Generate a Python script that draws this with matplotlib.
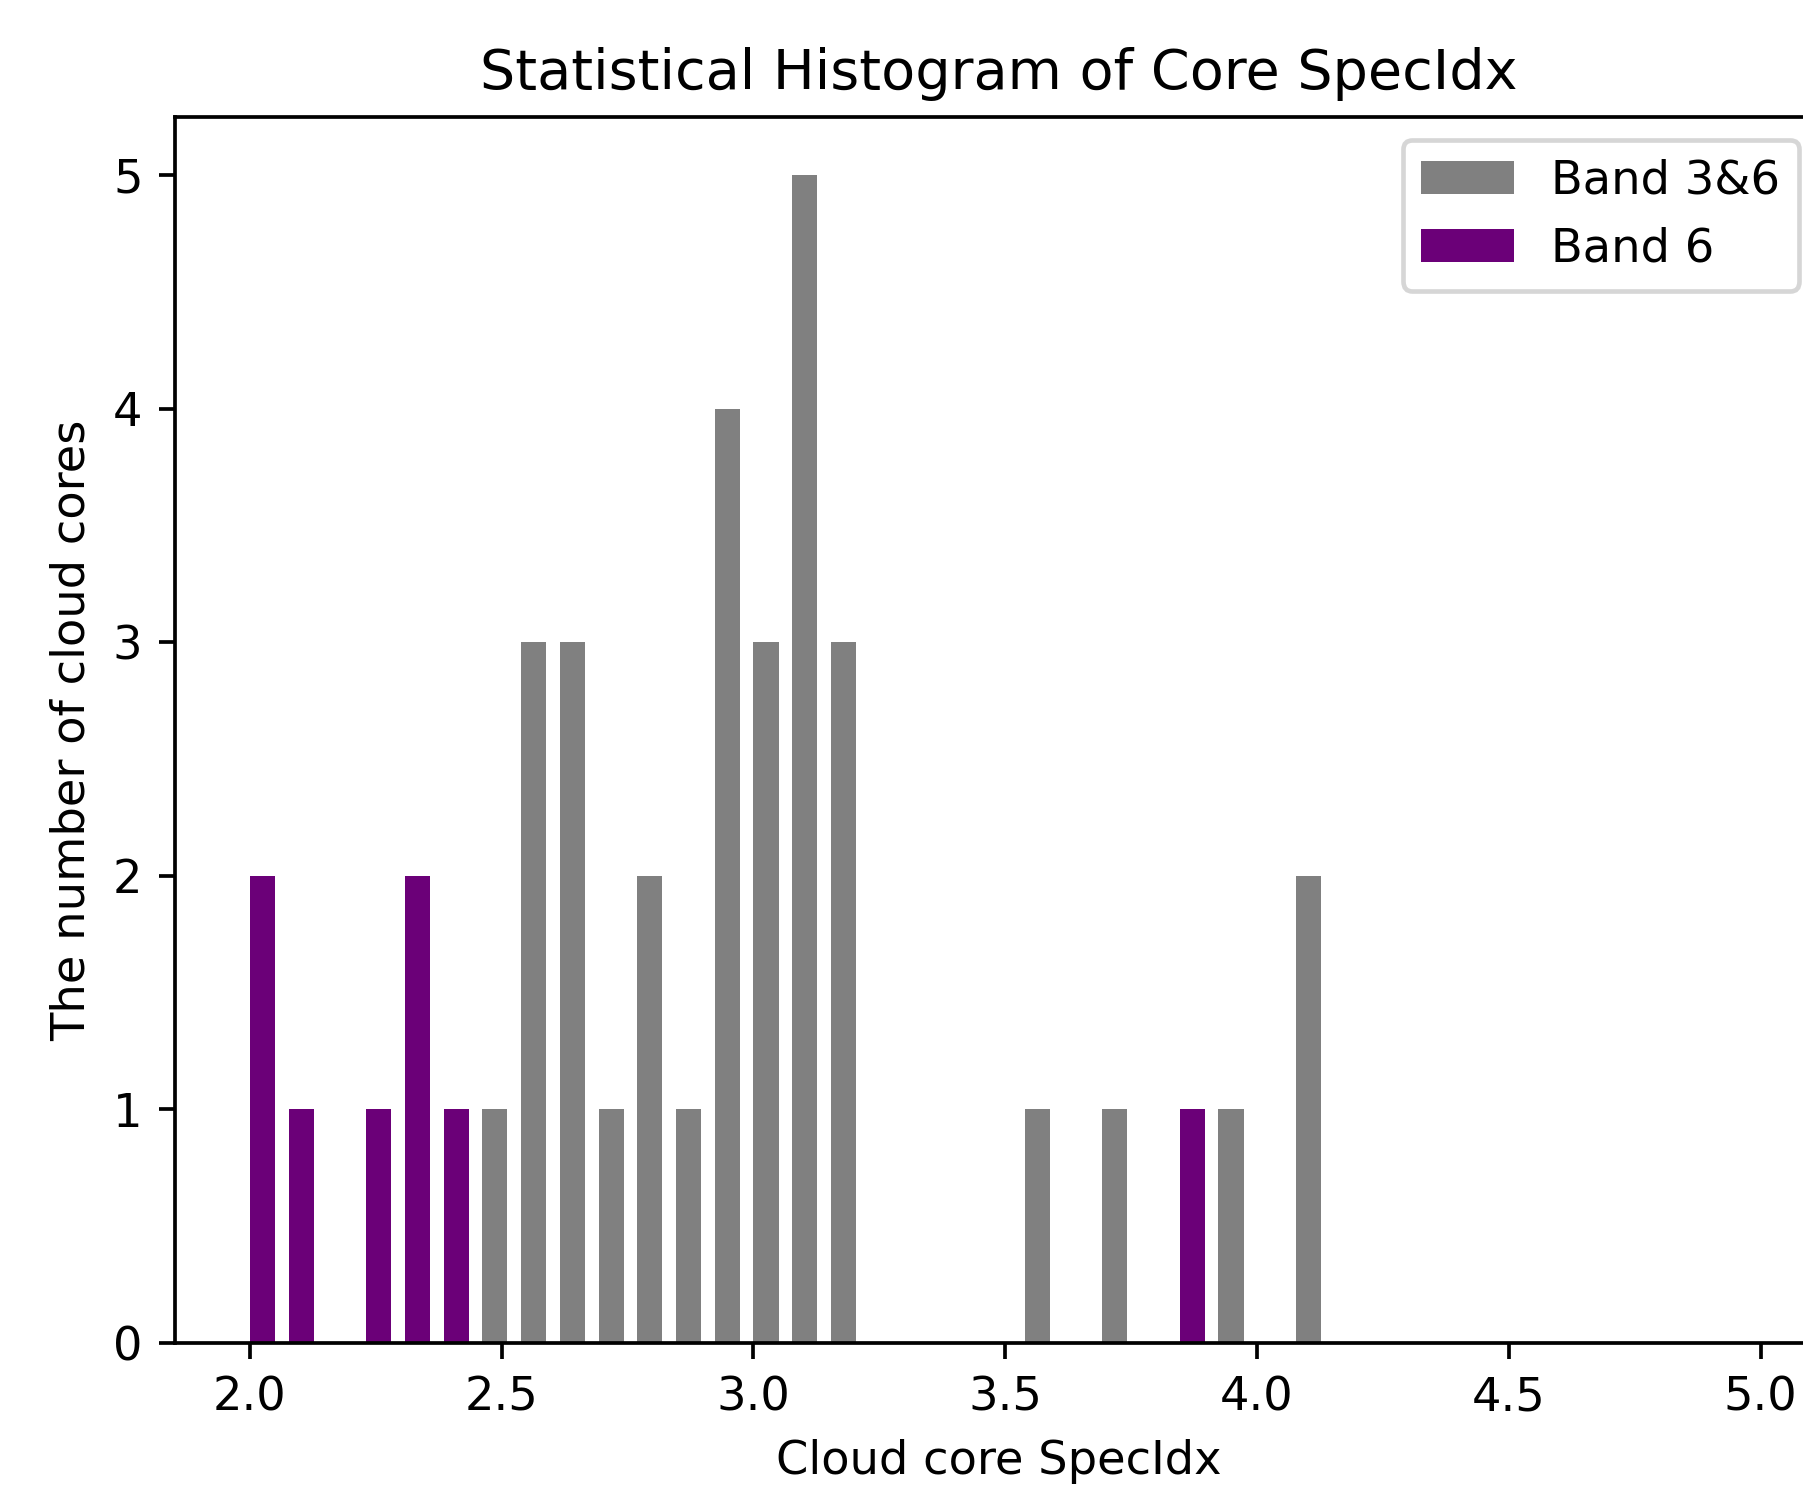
import numpy as np
import matplotlib
matplotlib.use("Agg")
import matplotlib.pyplot as plt

# histogram bins: 39 equal bins between 2.0 and 5.0
bin_start = 2.0
bin_stop = 5.0
n_bins = 39

# counts per bin index (only non-empty bins listed)
band36_bins = [6, 7, 8, 9, 10, 11, 12, 13, 14, 15, 20, 22, 25, 27]
band36_counts = [1, 3, 3, 1, 2, 1, 4, 3, 5, 3, 1, 1, 1, 2]

band6_bins = [0, 1, 3, 4, 5, 24]
band6_counts = [2, 1, 1, 2, 1, 1]

labels = ["Band 3&6", "Band 6"]
colors = ["gray", "#6b0078"]


def main():
    edges = np.linspace(bin_start, bin_stop, n_bins + 1)
    left_edges = edges[:-1]

    hist36 = np.zeros(n_bins)
    hist36[band36_bins] = band36_counts
    hist6 = np.zeros(n_bins)
    hist6[band6_bins] = band6_counts

    dpi = 334
    fig = plt.figure(figsize=(1803 / dpi, 1490 / dpi), dpi=dpi)
    ax = fig.add_axes([175 / 1803, 147 / 1490, 1647 / 1803, 1226 / 1490])

    ax.bar(left_edges, hist36, width=0.05, align="edge", color=colors[0], label=labels[0])
    ax.bar(left_edges, hist6, width=0.05, align="edge", color=colors[1], label=labels[1])

    ax.set_title("Statistical Histogram of Core SpecIdx", fontsize=12)
    ax.set_xlabel("Cloud core SpecIdx")
    ax.set_ylabel("The number of cloud cores")
    ax.legend(loc="upper right")

    fig.savefig("out.png", dpi=dpi)
    plt.close(fig)


if __name__ == "__main__":
    main()
